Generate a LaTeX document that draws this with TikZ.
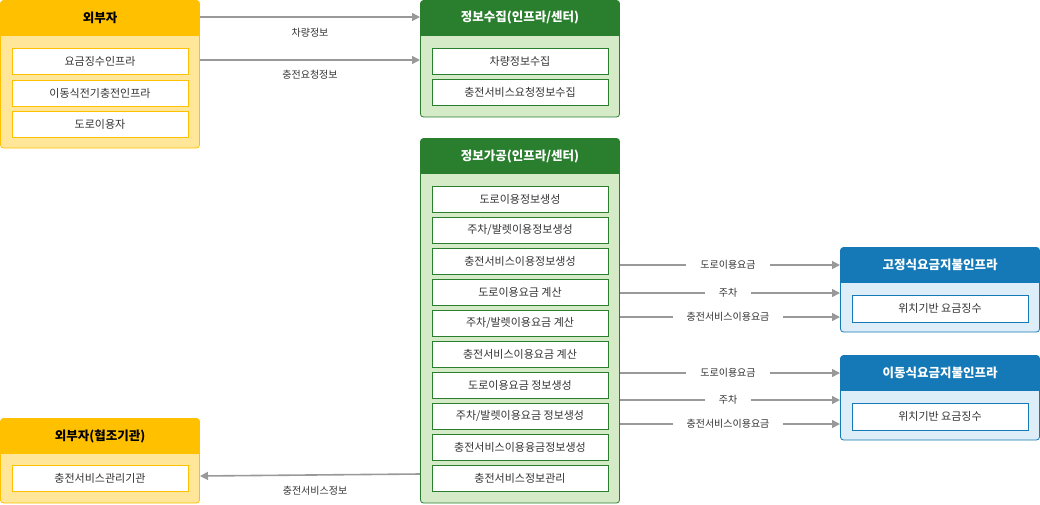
\documentclass[tikz,border=0pt]{standalone}
\usepackage{fontspec}
\setmainfont{Noto Sans CJK KR}
\usetikzlibrary{arrows.meta}
\definecolor{yh}{HTML}{FFC000}\definecolor{yb}{HTML}{FFE699}
\definecolor{gh}{HTML}{2A7F2E}\definecolor{gb}{HTML}{D5EBC8}
\definecolor{bh}{HTML}{1479B6}\definecolor{bb}{HTML}{DEEEF8}
\definecolor{ar}{HTML}{999999}\definecolor{tx}{HTML}{333333}
\begin{document}
\begin{tikzpicture}[x=1pt,y=-1pt,
 outer/.style={rounded corners=3pt,line width=0.8pt},
 item/.style={draw=#1,fill=white,line width=0.8pt,minimum width=176pt,minimum height=26pt,inner sep=0pt,font=\fontsize{11}{13}\selectfont,text=tx},
 head/.style={font=\bfseries\fontsize{12.5}{14}\selectfont,text=white},
 arr/.style={draw=ar,line width=1.6pt,-{Triangle[length=8pt,width=8pt]}},
 lab/.style={font=\fontsize{10}{12}\selectfont,text=tx},
 ilab/.style={lab,fill=white,inner xsep=14pt,inner ysep=1pt}]
\useasboundingbox (0,0) rectangle (1040,504);
% box macro via paths
\newcommand{\mybox}[7]{% x1 y1 x2 y2 hdrcol bodycol title(node name #7)
  \fill[#6,rounded corners=3pt] (#1,#2) rectangle (#3,#4);
  \draw[#5,line width=0.8pt,rounded corners=3pt] (#1,#2) rectangle (#3,#4);
  \fill[#5,rounded corners=3pt] (#1,#2) rectangle (#3,#2+35);
  \fill[#5] (#1,#2+30) rectangle (#3,#2+35);}
\mybox{0.5}{0.5}{199.5}{148}{yh}{yb}{}
\node[head,text=black] (ext) at (100,17.5) {외부자};
\node[item=yh] (e1) at (100,61) {요금징수인프라};
\node[item=yh] (e2) at (100,93) {이동식전기충전인프라};
\node[item=yh] (e3) at (100,124) {도로이용자};
\mybox{420.5}{0.5}{619.5}{117}{gh}{gb}{}
\node[head] (col) at (520,17.5) {정보수집(인프라/센터)};
\node[item=gh] (c1) at (520,61) {차량정보수집};
\node[item=gh] (c2) at (520,92) {충전서비스요청정보수집};
\mybox{420.5}{138.5}{619.5}{503}{gh}{gb}{}
\node[head] (pro) at (520,156) {정보가공(인프라/센터)};
\foreach \t [count=\i] in {도로이용정보생성,주차/발렛이용정보생성,충전서비스이용정보생성,도로이용요금 계산,주차/발렛이용요금 계산,충전서비스이용요금 계산,도로이용요금 정보생성,주차/발렛이용요금 정보생성,충전서비스이용융금정보생성,충전서비스정보관리}
  \node[item=gh] (p\i) at (520,{199+31*(\i-1)}) {\t};
\mybox{840.5}{247.5}{1039.5}{332}{bh}{bb}{}
\node[head] (fix) at (940,265) {고정식요금지불인프라};
\node[item=bh,minimum height=27pt] (f1) at (940,308.5) {위치기반 요금징수};
\mybox{840.5}{355.5}{1039.5}{440}{bh}{bb}{}
\node[head] (mob) at (940,373) {이동식요금지불인프라};
\node[item=bh,minimum height=27pt] (m1) at (940,416.5) {위치기반 요금징수};
\mybox{0.5}{418.5}{199.5}{503}{yh}{yb}{}
\node[head,text=black] (coop) at (100,436) {외부자(협조기관)};
\node[item=yh] (o1) at (100,478) {충전서비스관리기관};
% coordinates
\coordinate (a1) at (200,17); \coordinate (b1) at (420,17);
\coordinate (a2) at (200,60); \coordinate (b2) at (420,60);
\draw[arr] (a1) -- (b1); \node[lab] (l1) at (310,33) {차량정보};
\draw[arr] (a2) -- (b2); \node[lab] (l2) at (310,75) {충전요청정보};
\coordinate (s0) at (420,474); \coordinate (t0) at (200,476);
\draw[arr] (s0) -- (t0); \node[lab] (l0) at (315,491) {충전서비스정보};
\foreach \y/\t/\n in {265/도로이용요금/r1,293/주차/발렛이용요금/r2,317/충전서비스이용요금/r3,373/도로이용요금/r4,400/주차/발렛이용요금/r5,424/충전서비스이용요금/r6}{
  \coordinate (\n s) at (620,\y); \coordinate (\n e) at (840,\y);
  \draw[arr] (\n s) -- (\n e);
  \node[ilab] (\n) at (728,\y) {\t};}
\end{tikzpicture}
\end{document}
